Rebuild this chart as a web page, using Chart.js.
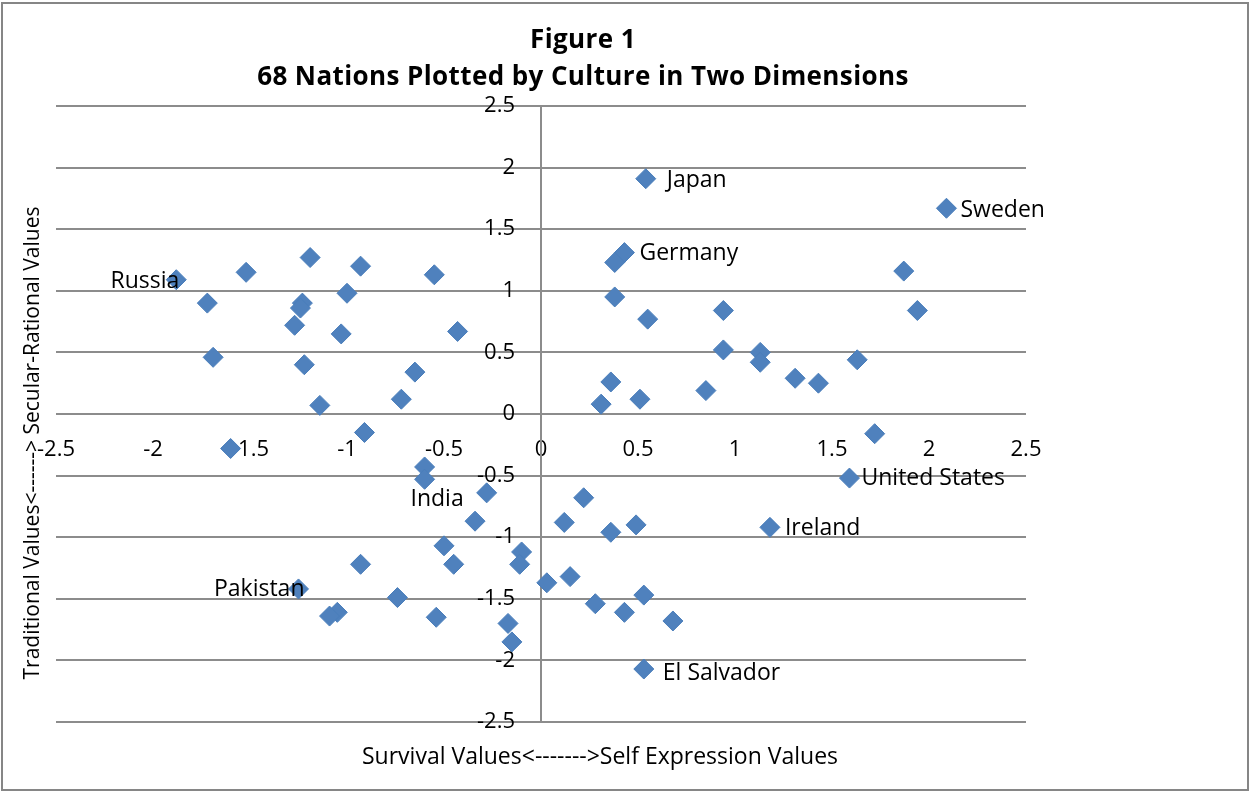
<!DOCTYPE html>
<html>
<head>
<meta charset="utf-8">
<script src="https://cdn.jsdelivr.net/npm/chart.js@4.4.0/dist/chart.umd.min.js"></script>
<style>
  html, body { margin: 0; padding: 0; background: #ffffff; }
  canvas { display: block; }
</style>
</head>
<body>
<canvas id="c" width="1250" height="792"></canvas>
<script>
// ---- Data ----
const titleLines = ['Figure 1', '68 Nations Plotted by Culture in Two Dimensions'];
const xAxisTitle = 'Survival Values<------->Self Expression Values';
const yAxisTitle = 'Traditional Values<------> Secular-Rational Values';
const tickValues = [-2.5, -2, -1.5, -1, -0.5, 0, 0.5, 1, 1.5, 2, 2.5];

// Survival (-) / Self-expression (+) values
const survivalSelfExpression = [
  -1.88, -1.72, -1.69, -1.52, -1.19, -1.23, -1.24, -1.27, -1.22, -1.14,
  -0.93, -1.00, -1.03, -0.55, -0.43, -0.65, -0.72, -0.91, -1.60, -0.60,
  -0.60, -0.28, -0.34, -0.50, -0.45, -0.10, -0.11, 0.03, -0.93, -1.25,
  -1.05, -1.09, -0.74, -0.54, -0.17, -0.15, 0.54, 2.09, 0.43, 0.38,
  0.38, 0.55, 0.94, 0.94, 1.13, 1.13, 1.31, 1.43, 1.63, 1.87,
  1.94, 0.36, 0.31, 0.51, 0.85, 1.72, 1.59, 1.18, 0.22, 0.12,
  0.36, 0.49, 0.15, 0.28, 0.43, 0.53, 0.68, 0.53
];
// Traditional (-) / Secular-rational (+) values
const traditionalSecular = [
  1.09, 0.90, 0.46, 1.15, 1.27, 0.90, 0.86, 0.72, 0.40, 0.07,
  1.20, 0.98, 0.65, 1.13, 0.67, 0.34, 0.12, -0.15, -0.28, -0.43,
  -0.53, -0.64, -0.87, -1.07, -1.22, -1.12, -1.22, -1.37, -1.22, -1.42,
  -1.61, -1.64, -1.49, -1.65, -1.70, -1.85, 1.91, 1.67, 1.31, 1.23,
  0.95, 0.77, 0.84, 0.52, 0.50, 0.42, 0.29, 0.25, 0.44, 1.16,
  0.84, 0.26, 0.08, 0.12, 0.19, -0.16, -0.52, -0.92, -0.68, -0.88,
  -0.96, -0.90, -1.32, -1.54, -1.61, -1.47, -1.68, -2.07
];
// Nation names for the labelled points (others unlabelled)
const nationNames = survivalSelfExpression.map(() => '');
nationNames[0] = 'Russia';
nationNames[21] = 'India';
nationNames[29] = 'Pakistan';
nationNames[36] = 'Japan';
nationNames[37] = 'Sweden';
nationNames[38] = 'Germany';
nationNames[56] = 'United States';
nationNames[57] = 'Ireland';
nationNames[67] = 'El Salvador';

// ---- Styling / placement ----
const FONT = '"Open Sans", Lato, sans-serif';
const TEXT_SIZE = 23;
const Y_TITLE_SIZE = 21;
const TICK_SIZE = 22;
const GRID = '#8c8c8c';
const labelPlacement = {
  'Russia':        { side: 'left',  dx: 3,   dy: 2 },
  'India':         { side: 'left',  dx: -23, dy: 7 },
  'Pakistan':      { side: 'left',  dx: 6,   dy: 1 },
  'Japan':         { side: 'right', dx: 21,  dy: 2 },
  'Sweden':        { side: 'right', dx: 14,  dy: 2 },
  'Germany':       { side: 'right', dx: 15,  dy: 1 },
  'United States': { side: 'right', dx: 12,  dy: 0 },
  'Ireland':       { side: 'right', dx: 15,  dy: 1 },
  'El Salvador':   { side: 'right', dx: 19,  dy: 4 }
};

const points = survivalSelfExpression.map((x, i) => ({ x: x, y: traditionalSecular[i] }));

const frameAndTitles = {
  id: 'frameAndTitles',
  beforeDraw(chart) {
    const ctx = chart.ctx;
    ctx.save();
    ctx.fillStyle = '#ffffff';
    ctx.fillRect(0, 0, chart.width, chart.height);
    ctx.restore();
  },
  afterLayout(chart) {
    // Shift the y tick labels left of the centred axis line
    const ys = chart.scales.y;
    const items = ys.getLabelItems();
    items.forEach(it => { it.options.translation[0] -= 26; });
  },
  afterDraw(chart) {
    const ctx = chart.ctx;
    ctx.save();
    // outer frame
    ctx.strokeStyle = '#868686';
    ctx.lineWidth = 2;
    ctx.strokeRect(2, 3, 1246, 787);
    // titles
    ctx.fillStyle = '#000000';
    ctx.textAlign = 'center';
    ctx.textBaseline = 'middle';
    ctx.font = 'bold 26px ' + FONT;
    if ('letterSpacing' in ctx) ctx.letterSpacing = '0.4px';
    ctx.fillText(titleLines[0], 583, 41);
    ctx.fillText(titleLines[1], 583, 78);
    if ('letterSpacing' in ctx) ctx.letterSpacing = '0px';
    ctx.font = TEXT_SIZE + 'px ' + FONT;
    ctx.fillText(xAxisTitle, 600, 757);
    ctx.font = Y_TITLE_SIZE + 'px ' + FONT;
    ctx.translate(33, 443);
    ctx.rotate(-Math.PI / 2);
    ctx.fillText(yAxisTitle, 0, 0);
    ctx.restore();
  }
};

const pointLabels = {
  id: 'pointLabels',
  afterDatasetsDraw(chart) {
    const ctx = chart.ctx;
    const meta = chart.getDatasetMeta(0);
    ctx.save();
    ctx.font = TEXT_SIZE + 'px ' + FONT;
    ctx.fillStyle = '#000000';
    ctx.textBaseline = 'middle';
    nationNames.forEach((name, i) => {
      if (!name) return;
      const p = labelPlacement[name];
      const el = meta.data[i];
      ctx.textAlign = p.side === 'left' ? 'right' : 'left';
      ctx.fillText(name, el.x + p.dx, el.y + p.dy);
    });
    ctx.restore();
  }
};

new Chart(document.getElementById('c'), {
  type: 'scatter',
  data: {
    datasets: [{
      label: 'Nations',
      data: points,
      pointStyle: 'rectRot',
      pointRadius: 10,
      pointHoverRadius: 10,
      backgroundColor: '#4F81BD',
      borderColor: '#4A7EBB',
      borderWidth: 1
    }]
  },
  options: {
    responsive: false,
    animation: false,
    events: [],
    layout: { padding: { left: 56, right: 224, top: 106, bottom: 70 } },
    plugins: {
      legend: { display: false },
      title: { display: false },
      tooltip: { enabled: false }
    },
    scales: {
      x: {
        type: 'linear',
        position: { y: 0 },
        min: -2.5, max: 2.5,
        afterBuildTicks: (s) => { s.ticks = tickValues.map(v => ({ value: v })); },
        ticks: {
          color: '#000000',
          font: { family: FONT, size: TICK_SIZE },
          padding: 23,
          maxRotation: 0,
          autoSkip: false,
          callback: (v) => String(v)
        },
        grid: { display: false, drawTicks: false },
        border: { display: false }
      },
      y: {
        type: 'linear',
        position: { x: 0 },
        min: -2.5, max: 2.5,
        afterBuildTicks: (s) => { s.ticks = tickValues.map(v => ({ value: v })); },
        ticks: {
          color: '#000000',
          font: { family: FONT, size: TICK_SIZE },
          autoSkip: false,
          callback: (v) => String(v)
        },
        grid: { display: true, color: GRID, lineWidth: 2, drawTicks: false },
        border: { display: true, color: GRID, width: 2 }
      }
    }
  },
  plugins: [frameAndTitles, pointLabels]
});
</script>
</body>
</html>
